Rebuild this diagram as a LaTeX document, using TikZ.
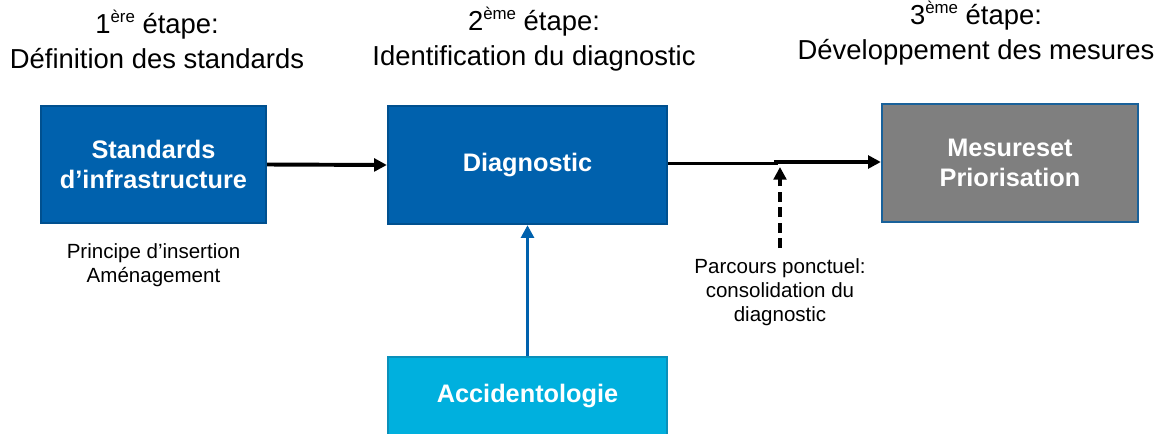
\documentclass[tikz,border=0pt]{standalone}
\usepackage{fontspec}
\setmainfont{Liberation Sans}
\usepackage{xcolor}
\usepackage{tikz}
\usetikzlibrary{arrows.meta}

\definecolor{bleuboite}{HTML}{0061AD}
\definecolor{bleubord}{HTML}{00508F}
\definecolor{cyanboite}{HTML}{00B0DE}
\definecolor{cyanbord}{HTML}{0A90BA}
\definecolor{grisboite}{HTML}{7F7F7F}

\newcommand{\expo}[1]{\raisebox{0.75ex}{\fontsize{12}{12}\selectfont #1}}

\tikzset{
  boite/.style={draw=bleubord, fill=bleuboite, line width=1.6pt, text=white,
    font=\fontsize{18}{21}\selectfont\bfseries, align=center, inner sep=0pt},
  titre/.style={font=\fontsize{19.5}{25}\selectfont, align=center},
  note/.style={font=\fontsize{14.6}{17}\selectfont, align=center},
  fleche/.style={line width=2.8pt, -{Triangle[length=9pt,width=9pt]}}
}

\begin{document}
\begin{tikzpicture}[x=0.025cm,y=-0.025cm]
    \useasboundingbox (0,0) rectangle (1165,434);
    % titres des etapes
    \node[titre] (t1) at (157,39.5) {1\expo{ère} étape:\\Définition des standards};
    \node[titre] (t2) at (534,39.5) {2\expo{ème} étape:\\Identification du diagnostic};
    \node[titre] (t3) at (976,33.5) {3\expo{ème} étape:\\Développement des mesures};
    % boites
    \node[boite, minimum width=5.625cm, minimum height=2.925cm] (std) at (153.5,164.5) {Standards\\d’infrastructure};
    \node[boite, minimum width=6.975cm, minimum height=2.95cm] (diag) at (527.5,165) {Diagnostic};
    \node[boite, fill=grisboite, draw=bleubord!90!white, minimum width=6.4cm, minimum height=2.95cm] (mes) at (1010,163) {Mesureset\\Priorisation};
    \node[boite, fill=cyanboite, draw=cyanbord, minimum width=6.975cm, minimum height=1.95cm] (acc) at (527.5,396) {Accidentologie};
    % notes
    \node[note] (princ) at (153.5,265) {Principe d’insertion\\Aménagement};
    \node[note] (parc) at (780,292) {Parcours ponctuel:\\consolidation du\\diagnostic};
    % fleches
    \coordinate (jonc) at (776,163.5);
    \coordinate (bas) at (780,248);
    \coordinate (pointe) at (780,167);
    \draw[fleche] (std.east) -- (diag.west);
    \draw[fleche] (diag.east |- jonc) -- (jonc) -- ++(0,-1.5) -- (mes.west |- 0,162);
    \draw[fleche, dash pattern=on 7pt off 4pt] (bas) -- (pointe);
    \draw[fleche, draw=bleuboite, fill=bleuboite] (acc.north) -- (diag.south);
\end{tikzpicture}
\end{document}
